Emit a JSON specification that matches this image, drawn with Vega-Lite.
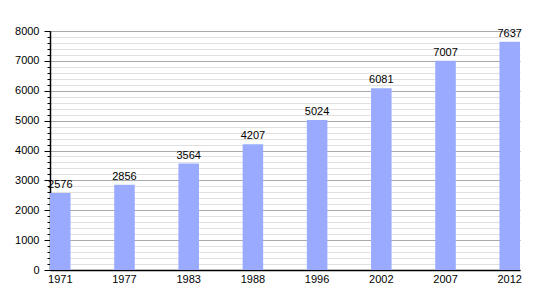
{
  "$schema": "https://vega.github.io/schema/vega-lite/v6.json",
  "width": 470,
  "height": 239,
  "autosize": "none",
  "padding": {"left": 50, "top": 31, "right": 30, "bottom": 30},
  "background": "white",
  "config": {
    "view": {"stroke": null},
    "font": "Liberation Sans",
    "axis": {"labelFont": "Liberation Sans", "labelFontSize": 11, "labelColor": "#000000"}
  },
  "data": {
    "values": [
      {"year": "1971", "pop": 2576},
      {"year": "1977", "pop": 2856},
      {"year": "1983", "pop": 3564},
      {"year": "1988", "pop": 4207},
      {"year": "1996", "pop": 5024},
      {"year": "2002", "pop": 6081},
      {"year": "2007", "pop": 7007},
      {"year": "2012", "pop": 7637}
    ]
  },
  "encoding": {
    "x": {
      "field": "year",
      "type": "ordinal",
      "sort": null,
      "scale": {"paddingInner": 0.68, "paddingOuter": 0},
      "axis": {"title": null, "labelAngle": 0, "ticks": false, "domainColor": "#000000", "domainWidth": 1.5, "labelPadding": 3, "grid": false}
    }
  },
  "layer": [
    {
      "mark": {"type": "bar", "color": "#9aabff"},
      "encoding": {
        "y": {
          "field": "pop",
          "type": "quantitative",
          "scale": {"domain": [0, 8000], "nice": false},
          "axis": {
            "orient": "left",
            "title": null,
            "values": [0,200,400,600,800,1000,1200,1400,1600,1800,2000,2200,2400,2600,2800,3000,3200,3400,3600,3800,4000,4200,4400,4600,4800,5000,5200,5400,5600,5800,6000,6200,6400,6600,6800,7000,7200,7400,7600,7800,8000],
            "labels": false,
            "grid": true,
            "gridColor": "#e0e0e0",
            "tickSize": 3,
            "tickColor": "#000000",
            "domain": false
          }
        }
      }
    },
    {
      "mark": {"type": "text", "baseline": "bottom", "dy": -3, "fontSize": 11, "color": "#000000", "font": "Liberation Sans"},
      "encoding": {
        "y": {
          "field": "pop",
          "type": "quantitative",
          "scale": {"domain": [0, 8000], "nice": false},
          "axis": {
            "orient": "left",
            "title": null,
            "format": "d",
            "values": [0,1000,2000,3000,4000,5000,6000,7000,8000],
            "grid": true,
            "gridColor": "#aaaaaa",
            "tickSize": 6,
            "tickColor": "#000000",
            "domainColor": "#000000",
            "domainWidth": 1.5,
            "labelPadding": 5
          }
        },
        "text": {"field": "pop", "type": "quantitative", "format": "d"}
      }
    }
  ],
  "resolve": {"axis": {"y": "independent"}}
}
